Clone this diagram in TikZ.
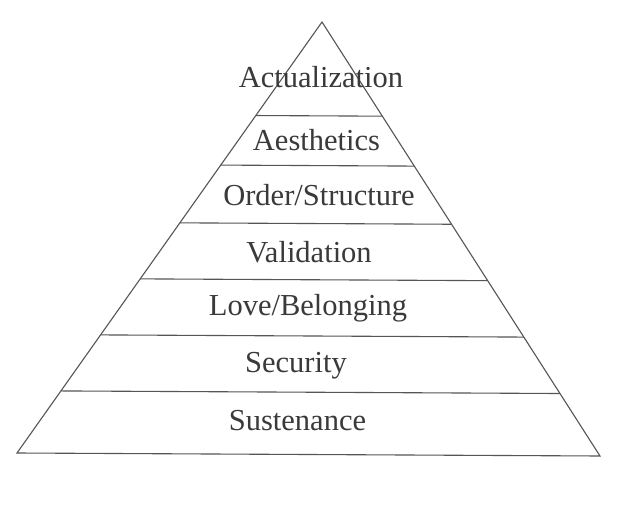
\documentclass[tikz,border=0pt]{standalone}
\usepackage{fontspec}
\setmainfont{Liberation Serif}
\usetikzlibrary{calc}
\definecolor{inkline}{HTML}{555555}
\definecolor{inktext}{HTML}{3A3A3A}
\tikzset{
  edge/.style={draw=inkline, line width=1.1pt},
  lvl/.style={anchor=base, inner sep=0pt, text=inktext, font=\fontsize{30.5}{32}\selectfont}
}
\begin{document}
\begin{tikzpicture}[x=1pt,y=-1pt]
\useasboundingbox[fill=white] (0,0) rectangle (624,519);
\coordinate (A) at (322,22);
\coordinate (L) at (17,453);
\coordinate (R) at (600,456);
\draw[edge, line join=miter] (A) -- (L) -- (R) -- cycle;
\foreach \t [count=\i] in {0.217,0.332,0.466,0.596,0.726,0.856}{
  \coordinate (l\i) at ($(A)!\t!(L)$);
  \coordinate (r\i) at ($(A)!\t!(R)$);
  \draw[edge] (l\i) -- (r\i);
}
\node[lvl] (n1) at (321,88) {Actualization};
\node[lvl] (n2) at (316.5,150) {Aesthetics};
\node[lvl] (n3) at (319,205) {Order/Structure};
\node[lvl] (n4) at (309,262) {Validation};
\node[lvl] (n5) at (308,315) {Love/Belonging};
\node[lvl] (n6) at (296,372) {Security};
\node[lvl] (n7) at (297.5,430) {Sustenance};
\end{tikzpicture}
\end{document}
